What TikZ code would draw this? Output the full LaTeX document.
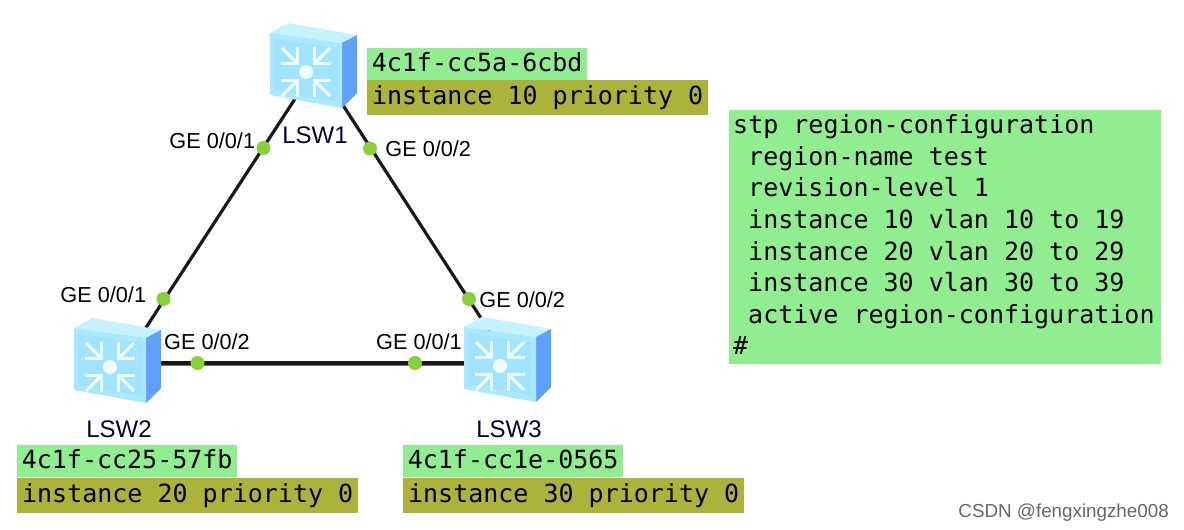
\documentclass[tikz,border=0pt]{standalone}
\usepackage{fontspec}
\setmainfont{Liberation Sans}
\setmonofont{DejaVu Sans Mono}
\usepackage{xcolor}
\usetikzlibrary{positioning, calc}
\definecolor{cfgGreen}{RGB}{144,238,144}
\definecolor{prioOlive}{RGB}{173,178,56}
\definecolor{portGreen}{RGB}{134,208,58}
\definecolor{swFront}{RGB}{170,232,255}
\definecolor{swInner}{RGB}{160,228,255}
\definecolor{swTop}{RGB}{196,242,255}
\definecolor{swSide}{RGB}{96,160,250}
\tikzset{
    swnode/.style={inner sep=0pt, minimum width=50pt, minimum height=40pt},
    portdot/.style={circle, fill=portGreen, inner sep=0pt, minimum size=14pt},
    portlabel/.style={font=\fontsize{21.7}{22}\selectfont, inner sep=0pt, text=black},
    swlabel/.style={font=\fontsize{24}{24}\selectfont, inner sep=0pt, text=black!80!blue},
    macbox/.style={fill=cfgGreen, font=\ttfamily\fontsize{25}{25}\selectfont, anchor=north west, inner sep=0pt, inner xsep=4pt, text height=20pt, text depth=6pt, minimum height=32pt, minimum width=220pt},
    priobox/.style={fill=prioOlive, font=\ttfamily\fontsize{25}{25}\selectfont, anchor=north west, inner sep=0pt, inner xsep=4pt, text height=20pt, text depth=7pt, minimum height=35pt, minimum width=341pt},
    link/.style={line width=3.2pt, black!90},
    hlink/.style={line width=3.2pt, black!90, preaction={draw, black!55, line width=5pt}},
    pics/switchicon/.style={code={
        % Front, top and side faces
        \fill[swTop] (0,0) -- (18,-10) -- (87,2) -- (72,10) -- cycle;
        \fill[swSide] (72,10) -- (87,2) -- (87,60) -- (72,75) -- cycle;
        \fill[swFront] (0,0) -- (72,10) -- (72,75) -- (0,62) -- cycle;
        \fill[swInner] (4,6) -- (68,15) -- (68,68) -- (4,57) -- cycle;
        % Centre point
        \fill[white!85!swFront] (36,39) circle (7);
        % Arrows towards the centre
        \foreach \rot in {45,135,225,315} {
            \begin{scope}[shift={(36,39)}, rotate=\rot]
                \draw[white!80!swFront, line width=3.2pt] (12,0) -- (34,0);
                \draw[white!80!swFront, line width=3.2pt] (24,-12) -- (12,0) -- (24,12);
            \end{scope}
        }
    }}
}
\begin{document}
\begin{tikzpicture}[x=1pt, y=-1pt]
    \useasboundingbox (0,0) rectangle (1184,530);

    % Switches
    \node[swnode] (LSW1) at (317,65) {};
    \node[swnode] (LSW2) at (123,363) {};
    \node[swnode] (LSW3) at (510,363) {};

    % Links
    \draw[link] (LSW1) -- (LSW2);
    \draw[link] (LSW1) -- (LSW3);
    \draw[hlink] (LSW2) -- (LSW3);

    % Icons on top of the links
    \pic at (270,33) {switchicon};
    \pic at (74,328) {switchicon};
    \pic at (464,327) {switchicon};

    % Port points
    \node[portdot] (P11) at (263.5,148) {};
    \node[portdot] (P12) at (370,148.5) {};
    \node[portdot] (P21) at (163.5,299) {};
    \node[portdot] (P22) at (197.5,363) {};
    \node[portdot] (P31) at (415,363) {};
    \node[portdot] (P32) at (469,299) {};

    % Port labels
    \node[portlabel, left=1pt of P11, yshift=7pt] (L11) {GE 0/0/1};
    \node[portlabel, right=8pt of P12] (L12) {GE 0/0/2};
    \node[portlabel, left=10pt of P21, yshift=4pt] (L21) {GE 0/0/1};
    \node[portlabel] (L22) at (207,342) {GE 0/0/2};
    \node[portlabel] (L31) at (419,342) {GE 0/0/1};
    \node[portlabel, right=3pt of P32, yshift=-1pt] (L32) {GE 0/0/2};

    % Switch names
    \node[swlabel] (N1) at (315,135) {LSW1};
    \node[swlabel] (N2) at (119,429) {LSW2};
    \node[swlabel] (N3) at (509,429) {LSW3};

    % Address and priority boxes
    \node[macbox] (M1) at (367,48) {4c1f-cc5a-6cbd};
    \node[priobox] (R1) at (367,80) {instance 10 priority 0};
    \node[macbox] (M2) at (17,445) {4c1f-cc25-57fb};
    \node[priobox] (R2) at (17,478) {instance 20 priority 0};
    \node[macbox] (M3) at (403,445) {4c1f-cc1e-0565};
    \node[priobox] (R3) at (403,478) {instance 30 priority 0};

    % Region configuration
    \node[fill=cfgGreen, anchor=north west, inner sep=0pt, minimum width=432pt, minimum height=254pt] (CFG) at (729,110) {};
    \foreach \ind/\txt [count=\i from 0] in {0/stp region-configuration, 15/region-name test, 15/revision-level 1, 15/instance 10 vlan 10 to 19, 15/instance 20 vlan 20 to 29, 15/instance 30 vlan 30 to 39, 15/active region-configuration, 0/\#} {
        \node[anchor=base west, inner sep=0pt, font=\ttfamily\fontsize{25}{25}\selectfont] (T\i) at ($(CFG.north west)+(4+\ind,23.7+31.6*\i)$) {\txt};
    }

    % Watermark
    \node[anchor=base east, inner sep=0pt, text=black!60, font=\fontsize{18.8}{20}\selectfont] (WM) at (1169,517) {CSDN @fengxingzhe008};
\end{tikzpicture}
\end{document}
